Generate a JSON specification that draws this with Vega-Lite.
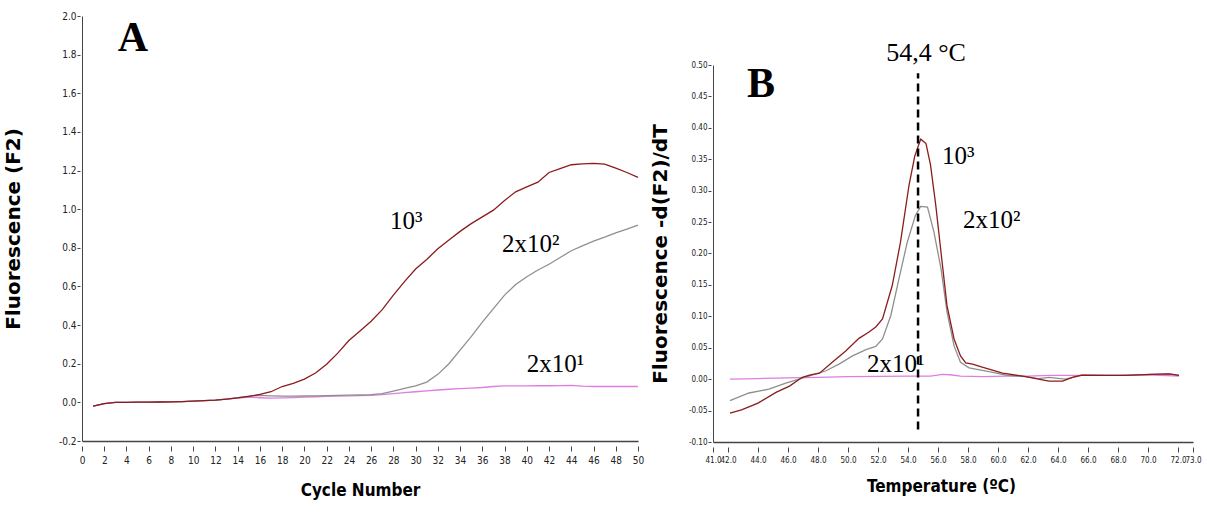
{
  "$schema": "https://vega.github.io/schema/vega-lite/v6.json",
  "background": "white",
  "padding": {"left": 3, "top": 11, "right": 5, "bottom": 5},
  "config": {
    "view": {"stroke": null},
    "axis": {"grid": false, "domainColor": "#444", "tickColor": "#444", "labelColor": "#222", "labelFont": "Liberation Sans Narrow, DejaVu Sans Condensed, sans-serif", "titleColor": "#000", "labelOverlap": false, "labelFlush": false, "labelBound": false}
  },
  "datasets": {
    "pcr": [
      {"series":"2x10¹","cycle":1,"F":-0.02},{"series":"2x10¹","cycle":2,"F":-0.006},{"series":"2x10¹","cycle":3,"F":0},{"series":"2x10¹","cycle":4,"F":0},{"series":"2x10¹","cycle":5,"F":0.001},{"series":"2x10¹","cycle":6,"F":0.001},{"series":"2x10¹","cycle":7,"F":0.002},{"series":"2x10¹","cycle":8,"F":0.003},{"series":"2x10¹","cycle":9,"F":0.004},{"series":"2x10¹","cycle":10,"F":0.006},{"series":"2x10¹","cycle":11,"F":0.009},{"series":"2x10¹","cycle":12,"F":0.012},{"series":"2x10¹","cycle":13,"F":0.017},{"series":"2x10¹","cycle":14,"F":0.022},{"series":"2x10¹","cycle":15,"F":0.027},{"series":"2x10¹","cycle":16,"F":0.024},{"series":"2x10¹","cycle":17,"F":0.022},{"series":"2x10¹","cycle":18,"F":0.023},{"series":"2x10¹","cycle":19,"F":0.025},{"series":"2x10¹","cycle":20,"F":0.027},{"series":"2x10¹","cycle":21,"F":0.029},{"series":"2x10¹","cycle":22,"F":0.031},{"series":"2x10¹","cycle":23,"F":0.033},{"series":"2x10¹","cycle":24,"F":0.034},{"series":"2x10¹","cycle":25,"F":0.035},{"series":"2x10¹","cycle":26,"F":0.036},{"series":"2x10¹","cycle":27,"F":0.04},{"series":"2x10¹","cycle":28,"F":0.045},{"series":"2x10¹","cycle":29,"F":0.05},{"series":"2x10¹","cycle":30,"F":0.055},{"series":"2x10¹","cycle":31,"F":0.06},{"series":"2x10¹","cycle":32,"F":0.064},{"series":"2x10¹","cycle":33,"F":0.068},{"series":"2x10¹","cycle":34,"F":0.071},{"series":"2x10¹","cycle":35,"F":0.074},{"series":"2x10¹","cycle":36,"F":0.077},{"series":"2x10¹","cycle":37,"F":0.082},{"series":"2x10¹","cycle":38,"F":0.085},{"series":"2x10¹","cycle":39,"F":0.085},{"series":"2x10¹","cycle":40,"F":0.085},{"series":"2x10¹","cycle":41,"F":0.086},{"series":"2x10¹","cycle":42,"F":0.086},{"series":"2x10¹","cycle":43,"F":0.087},{"series":"2x10¹","cycle":44,"F":0.088},{"series":"2x10¹","cycle":45,"F":0.084},{"series":"2x10¹","cycle":46,"F":0.082},{"series":"2x10¹","cycle":47,"F":0.082},{"series":"2x10¹","cycle":48,"F":0.082},{"series":"2x10¹","cycle":49,"F":0.082},{"series":"2x10¹","cycle":50,"F":0.082},
      {"series":"2x10²","cycle":1,"F":-0.02},{"series":"2x10²","cycle":2,"F":-0.006},{"series":"2x10²","cycle":3,"F":0},{"series":"2x10²","cycle":4,"F":0},{"series":"2x10²","cycle":5,"F":0.001},{"series":"2x10²","cycle":6,"F":0.001},{"series":"2x10²","cycle":7,"F":0.002},{"series":"2x10²","cycle":8,"F":0.003},{"series":"2x10²","cycle":9,"F":0.004},{"series":"2x10²","cycle":10,"F":0.006},{"series":"2x10²","cycle":11,"F":0.009},{"series":"2x10²","cycle":12,"F":0.012},{"series":"2x10²","cycle":13,"F":0.017},{"series":"2x10²","cycle":14,"F":0.025},{"series":"2x10²","cycle":15,"F":0.032},{"series":"2x10²","cycle":16,"F":0.036},{"series":"2x10²","cycle":17,"F":0.034},{"series":"2x10²","cycle":18,"F":0.032},{"series":"2x10²","cycle":19,"F":0.032},{"series":"2x10²","cycle":20,"F":0.033},{"series":"2x10²","cycle":21,"F":0.034},{"series":"2x10²","cycle":22,"F":0.035},{"series":"2x10²","cycle":23,"F":0.036},{"series":"2x10²","cycle":24,"F":0.037},{"series":"2x10²","cycle":25,"F":0.038},{"series":"2x10²","cycle":26,"F":0.04},{"series":"2x10²","cycle":27,"F":0.045},{"series":"2x10²","cycle":28,"F":0.058},{"series":"2x10²","cycle":29,"F":0.072},{"series":"2x10²","cycle":30,"F":0.085},{"series":"2x10²","cycle":31,"F":0.105},{"series":"2x10²","cycle":32,"F":0.145},{"series":"2x10²","cycle":33,"F":0.2},{"series":"2x10²","cycle":34,"F":0.27},{"series":"2x10²","cycle":35,"F":0.34},{"series":"2x10²","cycle":36,"F":0.415},{"series":"2x10²","cycle":37,"F":0.485},{"series":"2x10²","cycle":38,"F":0.555},{"series":"2x10²","cycle":39,"F":0.61},{"series":"2x10²","cycle":40,"F":0.65},{"series":"2x10²","cycle":41,"F":0.685},{"series":"2x10²","cycle":42,"F":0.715},{"series":"2x10²","cycle":43,"F":0.75},{"series":"2x10²","cycle":44,"F":0.785},{"series":"2x10²","cycle":45,"F":0.81},{"series":"2x10²","cycle":46,"F":0.835},{"series":"2x10²","cycle":47,"F":0.855},{"series":"2x10²","cycle":48,"F":0.877},{"series":"2x10²","cycle":49,"F":0.897},{"series":"2x10²","cycle":50,"F":0.917},
      {"series":"10³","cycle":1,"F":-0.02},{"series":"10³","cycle":2,"F":-0.006},{"series":"10³","cycle":3,"F":0},{"series":"10³","cycle":4,"F":0},{"series":"10³","cycle":5,"F":0.001},{"series":"10³","cycle":6,"F":0.001},{"series":"10³","cycle":7,"F":0.002},{"series":"10³","cycle":8,"F":0.003},{"series":"10³","cycle":9,"F":0.004},{"series":"10³","cycle":10,"F":0.006},{"series":"10³","cycle":11,"F":0.009},{"series":"10³","cycle":12,"F":0.012},{"series":"10³","cycle":13,"F":0.017},{"series":"10³","cycle":14,"F":0.023},{"series":"10³","cycle":15,"F":0.031},{"series":"10³","cycle":16,"F":0.041},{"series":"10³","cycle":17,"F":0.055},{"series":"10³","cycle":18,"F":0.082},{"series":"10³","cycle":19,"F":0.098},{"series":"10³","cycle":20,"F":0.12},{"series":"10³","cycle":21,"F":0.152},{"series":"10³","cycle":22,"F":0.197},{"series":"10³","cycle":23,"F":0.255},{"series":"10³","cycle":24,"F":0.32},{"series":"10³","cycle":25,"F":0.37},{"series":"10³","cycle":26,"F":0.42},{"series":"10³","cycle":27,"F":0.48},{"series":"10³","cycle":28,"F":0.555},{"series":"10³","cycle":29,"F":0.625},{"series":"10³","cycle":30,"F":0.69},{"series":"10³","cycle":31,"F":0.74},{"series":"10³","cycle":32,"F":0.795},{"series":"10³","cycle":33,"F":0.84},{"series":"10³","cycle":34,"F":0.885},{"series":"10³","cycle":35,"F":0.925},{"series":"10³","cycle":36,"F":0.96},{"series":"10³","cycle":37,"F":0.995},{"series":"10³","cycle":38,"F":1.045},{"series":"10³","cycle":39,"F":1.09},{"series":"10³","cycle":40,"F":1.115},{"series":"10³","cycle":41,"F":1.14},{"series":"10³","cycle":42,"F":1.19},{"series":"10³","cycle":43,"F":1.21},{"series":"10³","cycle":44,"F":1.23},{"series":"10³","cycle":45,"F":1.235},{"series":"10³","cycle":46,"F":1.237},{"series":"10³","cycle":47,"F":1.233},{"series":"10³","cycle":48,"F":1.212},{"series":"10³","cycle":49,"F":1.19},{"series":"10³","cycle":50,"F":1.165}
    ],
    "melt": [
      {"series":"2x10¹","T":42.13,"d":0.0},{"series":"2x10¹","T":44.0,"d":0.001},{"series":"2x10¹","T":46.0,"d":0.002},{"series":"2x10¹","T":48.0,"d":0.003},{"series":"2x10¹","T":50.0,"d":0.004},{"series":"2x10¹","T":52.0,"d":0.0045},{"series":"2x10¹","T":54.0,"d":0.005},{"series":"2x10¹","T":55.5,"d":0.005},{"series":"2x10¹","T":56.3,"d":0.0075},{"series":"2x10¹","T":56.8,"d":0.007},{"series":"2x10¹","T":57.5,"d":0.005},{"series":"2x10¹","T":59.0,"d":0.004},{"series":"2x10¹","T":60.5,"d":0.005},{"series":"2x10¹","T":62.0,"d":0.005},{"series":"2x10¹","T":63.5,"d":0.006},{"series":"2x10¹","T":64.5,"d":0.006},{"series":"2x10¹","T":66.0,"d":0.006},{"series":"2x10¹","T":68.0,"d":0.006},{"series":"2x10¹","T":70.0,"d":0.007},{"series":"2x10¹","T":72.07,"d":0.005},
      {"series":"2x10²","T":42.13,"d":-0.034},{"series":"2x10²","T":43.4,"d":-0.022},{"series":"2x10²","T":44.73,"d":-0.016},{"series":"2x10²","T":45.85,"d":-0.0064},{"series":"2x10²","T":46.73,"d":0.0},{"series":"2x10²","T":47.6,"d":0.0064},{"series":"2x10²","T":48.5,"d":0.013},{"series":"2x10²","T":49.4,"d":0.024},{"series":"2x10²","T":50.3,"d":0.037},{"series":"2x10²","T":51.2,"d":0.047},{"series":"2x10²","T":51.85,"d":0.052},{"series":"2x10²","T":52.3,"d":0.064},{"series":"2x10²","T":52.85,"d":0.101},{"series":"2x10²","T":53.4,"d":0.16},{"series":"2x10²","T":53.95,"d":0.218},{"series":"2x10²","T":54.5,"d":0.261},{"series":"2x10²","T":54.85,"d":0.275},{"series":"2x10²","T":55.3,"d":0.274},{"series":"2x10²","T":55.73,"d":0.234},{"series":"2x10²","T":56.2,"d":0.176},{"series":"2x10²","T":56.6,"d":0.107},{"series":"2x10²","T":57.07,"d":0.053},{"series":"2x10²","T":57.5,"d":0.027},{"series":"2x10²","T":58.07,"d":0.018},{"series":"2x10²","T":59.4,"d":0.012},{"series":"2x10²","T":60.6,"d":0.006},{"series":"2x10²","T":61.85,"d":0.004},{"series":"2x10²","T":62.7,"d":0.001},{"series":"2x10²","T":63.4,"d":0.003},{"series":"2x10²","T":64.5,"d":0.0},{"series":"2x10²","T":65.0,"d":0.003},{"series":"2x10²","T":65.6,"d":0.0064},{"series":"2x10²","T":67.2,"d":0.006},{"series":"2x10²","T":68.5,"d":0.006},{"series":"2x10²","T":70.2,"d":0.0075},{"series":"2x10²","T":71.4,"d":0.0085},{"series":"2x10²","T":72.07,"d":0.006},
      {"series":"10³","T":42.13,"d":-0.054},{"series":"10³","T":42.9,"d":-0.049},{"series":"10³","T":44.0,"d":-0.038},{"series":"10³","T":45.2,"d":-0.021},{"series":"10³","T":46.1,"d":-0.011},{"series":"10³","T":46.95,"d":0.003},{"series":"10³","T":47.5,"d":0.007},{"series":"10³","T":48.1,"d":0.0096},{"series":"10³","T":48.95,"d":0.027},{"series":"10³","T":49.85,"d":0.045},{"series":"10³","T":50.73,"d":0.065},{"series":"10³","T":51.4,"d":0.075},{"series":"10³","T":51.85,"d":0.083},{"series":"10³","T":52.3,"d":0.096},{"series":"10³","T":52.95,"d":0.149},{"series":"10³","T":53.5,"d":0.218},{"series":"10³","T":54.07,"d":0.309},{"series":"10³","T":54.45,"d":0.355},{"series":"10³","T":54.85,"d":0.382},{"series":"10³","T":55.2,"d":0.375},{"series":"10³","T":55.5,"d":0.341},{"series":"10³","T":55.85,"d":0.277},{"series":"10³","T":56.2,"d":0.202},{"series":"10³","T":56.6,"d":0.117},{"series":"10³","T":57.07,"d":0.064},{"series":"10³","T":57.5,"d":0.037},{"series":"10³","T":57.85,"d":0.026},{"series":"10³","T":58.3,"d":0.024},{"series":"10³","T":58.95,"d":0.019},{"series":"10³","T":60.3,"d":0.0096},{"series":"10³","T":61.85,"d":0.004},{"series":"10³","T":62.7,"d":0.0},{"series":"10³","T":63.4,"d":-0.003},{"series":"10³","T":64.3,"d":-0.003},{"series":"10³","T":64.95,"d":0.003},{"series":"10³","T":65.6,"d":0.0064},{"series":"10³","T":67.2,"d":0.006},{"series":"10³","T":68.5,"d":0.006},{"series":"10³","T":70.2,"d":0.0075},{"series":"10³","T":71.4,"d":0.0085},{"series":"10³","T":72.07,"d":0.006}
    ],
    "labA": [{"cycle":27.7,"F":0.896,"label":"10³"},{"cycle":37.77,"F":0.777,"label":"2x10²"},{"cycle":40.0,"F":0.155,"label":"2x10¹"}],
    "letterA": [{"cycle":4.59,"F":1.819,"label":"A"}],
    "labB": [{"T":56.27,"d":0.343,"label":"10³"},{"T":57.67,"d":0.24,"label":"2x10²"},{"T":51.27,"d":0.011,"label":"2x10¹"}],
    "letterB": [{"T":44.2,"d":0.449,"label":"B"}],
    "tm": [{"T":54.67,"d0":-0.08,"d1":0.487}],
    "tmLabel": [{"T":55.2,"pos":0.082,"label":"54,4 °C"}]
  },
  "resolve": {"scale": {"x": "independent", "y": "independent", "color": "independent"}},
  "spacing": 6,
  "hconcat": [
    {
      "width": 556,
      "height": 425,
      "resolve": {"axis": {"x": "independent", "y": "independent"}},
      "layer": [
        {
          "data": {"name": "pcr"},
          "mark": {"type": "line", "strokeWidth": 1.3},
          "encoding": {
            "x": {"field": "cycle", "type": "quantitative", "scale": {"domain": [0, 50], "nice": false, "zero": false},
                  "axis": {"orient": "bottom", "domain": true, "domainWidth": 1.5, "ticks": false, "labels": false, "title": null}},
            "y": {"field": "F", "type": "quantitative", "scale": {"domain": [-0.2, 2.0], "nice": false, "zero": false},
                  "axis": {"orient": "left", "domain": true, "domainWidth": 1, "ticks": false, "labels": false, "title": null}},
            "color": {"field": "series", "type": "nominal", "scale": {"domain": ["2x10¹", "2x10²", "10³"], "range": ["#dd7ee0", "#8f8f8f", "#8b1c1c"]}, "legend": null}
          }
        },
        {
          "data": {"name": "labA"},
          "mark": {"type": "text", "font": "Liberation Serif", "fontSize": 25, "align": "left", "baseline": "alphabetic", "color": "black"},
          "encoding": {
            "x": {"field": "cycle", "type": "quantitative", "scale": {"domain": [0, 50], "nice": false, "zero": false},
                  "axis": {"orient": "bottom", "domain": false, "offset": 5, "tickSize": 5, "labelPadding": 4, "labelFontSize": 10,
                           "values": [0,2,4,6,8,10,12,14,16,18,20,22,24,26,28,30,32,34,36,38,40,42,44,46,48,50], "format": "d",
                           "title": "Cycle Number", "titleFont": "Liberation Sans Narrow, DejaVu Sans Condensed, sans-serif", "titleFontSize": 17, "titleFontWeight": "bold", "titlePadding": 17}},
            "y": {"field": "F", "type": "quantitative", "scale": {"domain": [-0.2, 2.0], "nice": false, "zero": false},
                  "axis": {"orient": "left", "domain": false, "offset": 2, "tickSize": 3, "labelPadding": 1, "labelFontSize": 10,
                           "values": [-0.2,0,0.2,0.4,0.6,0.8,1.0,1.2,1.4,1.6,1.8,2.0], "format": ".1f", "labelExpr": "replace(datum.label, '−', '-')",
                           "title": "Fluorescence (F2)", "titleFont": "DejaVu Sans", "titleFontSize": 20, "titleFontWeight": "bold", "titlePadding": 35}},
            "text": {"field": "label", "type": "nominal"}
          }
        },
        {
          "data": {"name": "letterA"},
          "mark": {"type": "text", "font": "Liberation Serif", "fontSize": 42, "fontWeight": "bold", "align": "center", "baseline": "alphabetic", "color": "black"},
          "encoding": {
            "x": {"field": "cycle", "type": "quantitative", "axis": null},
            "y": {"field": "F", "type": "quantitative", "axis": null},
            "text": {"field": "label", "type": "nominal"}
          }
        }
      ]
    },
    {
      "spacing": 0,
      "bounds": "flush",
      "resolve": {"scale": {"x": "independent", "y": "independent"}},
      "vconcat": [
        {
          "width": 480,
          "height": 49,
          "data": {"name": "tmLabel"},
          "mark": {"type": "text", "font": "Liberation Serif", "fontSize": 26, "align": "center", "baseline": "alphabetic", "color": "black"},
          "encoding": {
            "x": {"field": "T", "type": "quantitative", "scale": {"domain": [41, 73], "nice": false, "zero": false}, "axis": null},
            "y": {"field": "pos", "type": "quantitative", "scale": {"domain": [0, 1], "nice": false, "zero": false}, "axis": null},
            "text": {"field": "label", "type": "nominal"}
          }
        },
        {
          "width": 480,
          "height": 377,
          "resolve": {"axis": {"x": "independent", "y": "independent"}},
          "layer": [
            {
              "data": {"name": "melt"},
              "mark": {"type": "line", "strokeWidth": 1.3},
              "encoding": {
                "x": {"field": "T", "type": "quantitative", "scale": {"domain": [41, 73], "nice": false, "zero": false},
                      "axis": {"orient": "bottom", "domain": true, "domainWidth": 1.5, "ticks": false, "labels": false, "title": null}},
                "y": {"field": "d", "type": "quantitative", "scale": {"domain": [-0.1, 0.5], "nice": false, "zero": false},
                      "axis": {"orient": "left", "domain": true, "domainWidth": 1, "ticks": false, "labels": false, "title": null}},
                "color": {"field": "series", "type": "nominal", "scale": {"domain": ["2x10¹", "2x10²", "10³"], "range": ["#dd7ee0", "#8f8f8f", "#8b1c1c"]}, "legend": null}
              }
            },
            {
              "data": {"name": "tm"},
              "mark": {"type": "rule", "color": "black", "strokeWidth": 2.5, "strokeDash": [8, 5]},
              "encoding": {
                "x": {"field": "T", "type": "quantitative", "axis": null},
                "y": {"field": "d0", "type": "quantitative", "axis": null},
                "y2": {"field": "d1"}
              }
            },
            {
              "data": {"name": "labB"},
              "mark": {"type": "text", "font": "Liberation Serif", "fontSize": 25, "align": "left", "baseline": "alphabetic", "color": "black"},
              "encoding": {
                "x": {"field": "T", "type": "quantitative", "scale": {"domain": [41, 73], "nice": false, "zero": false},
                      "axis": {"orient": "bottom", "domain": false, "offset": 5, "tickSize": 5, "labelPadding": 4, "labelFontSize": 8,
                               "values": [41,42,44,46,48,50,52,54,56,58,60,62,64,66,68,70,72,73], "format": ".1f",
                               "title": "Temperature (ºC)", "titleFont": "Liberation Sans Narrow, DejaVu Sans Condensed, sans-serif", "titleFontSize": 17, "titleFontWeight": "bold", "titlePadding": 14, "titleX": 228}},
                "y": {"field": "d", "type": "quantitative", "scale": {"domain": [-0.1, 0.5], "nice": false, "zero": false},
                      "axis": {"orient": "left", "domain": false, "offset": 2, "tickSize": 3, "labelPadding": 1, "labelFontSize": 8,
                               "values": [-0.1,-0.05,0,0.05,0.1,0.15,0.2,0.25,0.3,0.35,0.4,0.45,0.5], "format": ".2f", "labelExpr": "replace(datum.label, '−', '-')",
                               "title": "Fluorescence -d(F2)/dT", "titleFont": "DejaVu Sans", "titleFontSize": 20, "titleFontWeight": "bold", "titlePadding": 18}},
                "text": {"field": "label", "type": "nominal"}
              }
            },
            {
              "data": {"name": "letterB"},
              "mark": {"type": "text", "font": "Liberation Serif", "fontSize": 42, "fontWeight": "bold", "align": "center", "baseline": "alphabetic", "color": "black"},
              "encoding": {
                "x": {"field": "T", "type": "quantitative", "axis": null},
                "y": {"field": "d", "type": "quantitative", "axis": null},
                "text": {"field": "label", "type": "nominal"}
              }
            }
          ]
        }
      ]
    }
  ]
}
